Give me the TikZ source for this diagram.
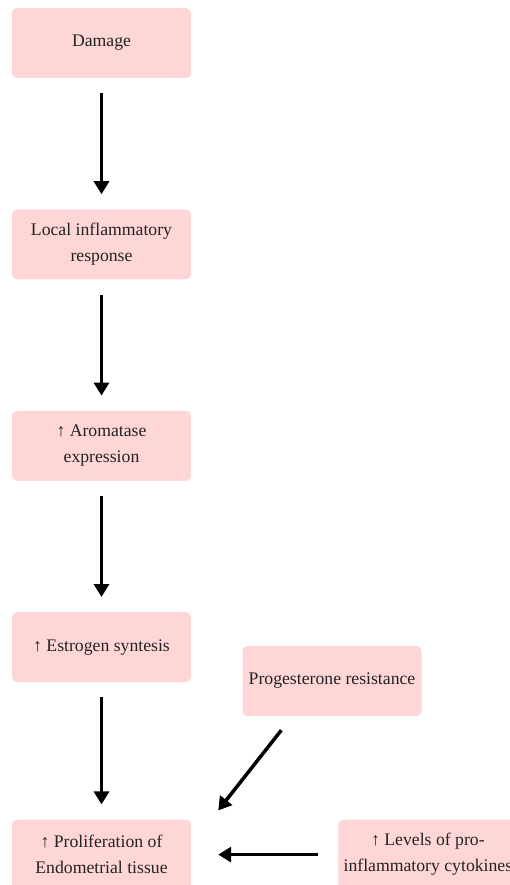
\documentclass[tikz,border=0pt]{standalone}
\usepackage{fontspec}
\setmainfont{Liberation Serif}
\usepackage{xcolor}
\usetikzlibrary{arrows.meta,positioning}

\definecolor{boxpink}{RGB}{255,214,214}
\definecolor{boxtext}{RGB}{35,35,35}

\begin{document}
\begin{tikzpicture}[
        x=1pt, y=1pt,
        node distance=131pt and 147pt,
        block/.style={rectangle, fill=boxpink, rounded corners=5pt, minimum width=179pt, minimum height=70pt, align=center, text=boxtext, font=\fontsize{17.7}{26}\selectfont},
        arrowstyle/.style={-{Triangle[length=13pt,width=15pt]}, line width=3.5pt, shorten <=15pt, shorten >=15pt}
    ]
        \useasboundingbox (0,0) rectangle (509,-885);

        \node[block] (damage) at (101.5,-43) {Damage};
        \node[block, below=of damage] (local) {Local inflammatory\\response};
        \node[block, below=of local] (aromatase) {↑ Aromatase\\expression};
        \node[block, below=of aromatase] (estrogen) {↑ Estrogen syntesis};
        \node[block, below=137pt of estrogen] (prolif) {↑ Proliferation of\\Endometrial tissue};
        \node[block] (prog) at (332,-681) {Progesterone resistance};
        \node[block, right=147pt of prolif] (levels) {↑ Levels of pro-\\inflammatory cytokines};

        \draw[arrowstyle] (damage) -- (local);
        \draw[arrowstyle] (local) -- (aromatase);
        \draw[arrowstyle] (aromatase) -- (estrogen);
        \draw[arrowstyle] (estrogen) -- (prolif);
        \draw[arrowstyle, shorten <=0pt, shorten >=0pt] ([xshift=39pt,yshift=-14pt]prog.south west) -- ([xshift=27pt,yshift=9pt]prolif.north east);
        \draw[arrowstyle, shorten <=20pt, shorten >=27pt] (levels) -- (prolif);
    \end{tikzpicture}
\end{document}
